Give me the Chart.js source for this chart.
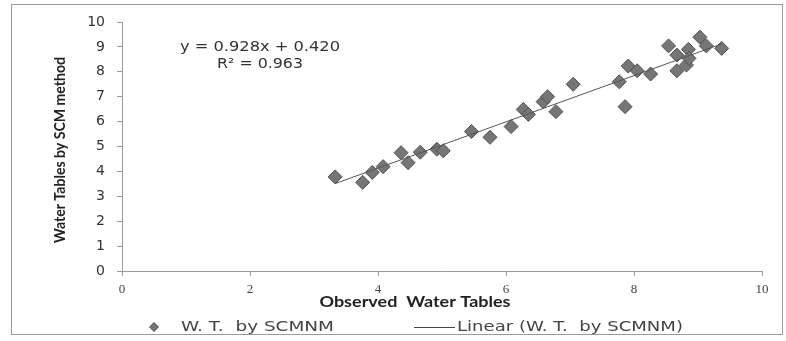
<!DOCTYPE html>
<html>
<head>
<meta charset="utf-8">
<script src="https://cdn.jsdelivr.net/npm/chart.js@4"></script>
<style>
    html, body {margin: 0; padding: 0; background: #ffffff;}
    #wrap {position: relative; width: 786px; height: 341px;}
</style>
</head>
<body>
<div id="wrap"><canvas id="chart"></canvas></div>
<script>
// observed vs. SCM water tables
const observedX = [3.33, 3.76, 3.91, 4.08, 4.36, 4.47, 4.66, 4.92, 5.02, 5.46, 5.75, 6.08, 6.27, 6.35, 6.58, 6.65,
    6.78, 7.05, 7.77, 7.86, 7.91, 8.05, 8.26, 8.54, 8.67, 8.67, 8.82, 8.85, 8.86, 9.03, 9.13, 9.37];
const scmY = [3.78, 3.56, 3.96, 4.19, 4.75, 4.35, 4.77, 4.89, 4.83, 5.60, 5.37, 5.80, 6.49, 6.29, 6.80, 7.00,
    6.40, 7.50, 7.60, 6.60, 8.23, 8.04, 7.91, 9.04, 8.67, 8.04, 8.27, 8.90, 8.54, 9.39, 9.04, 8.94];

// trendline end points
const trendX = [3.33, 9.37];
const trendY = [3.51, 9.12];

const xTicks = [0, 2, 4, 6, 8, 10];
const yTicks = [0, 1, 2, 3, 4, 5, 6, 7, 8, 9, 10];

const equationText = 'y = 0.928x + 0.420';
const r2Text = 'R² = 0.963';
const xTitle = 'Observed  Water Tables';
const yTitle = 'Water Tables by SCM method';
const seriesName = 'W. T.  by SCMNM';
const trendName = 'Linear (W. T.  by SCMNM)';

const markerFill = '#767676';
const markerBorder = '#505050';

const scatterPoints = observedX.map((x, i) => ({x: x, y: scmY[i]}));
const trendPoints = trendX.map((x, i) => ({x: x, y: trendY[i]}));

// draw text squeezed/stretched so it spans a given width
function fitText(ctx, text, x, y, width, align) {
    const w = ctx.measureText(text).width;
    const k = width / w;
    ctx.save();
    ctx.translate(x, y);
    ctx.scale(k, 1);
    ctx.textAlign = align || 'left';
    ctx.fillText(text, 0, 0);
    ctx.restore();
}

const extras = {
    id: 'extras',
    afterDraw(chart) {
        const ctx = chart.ctx;
        ctx.save();

        // outer frame
        ctx.strokeStyle = '#9a9a9a';
        ctx.lineWidth = 1;
        ctx.strokeRect(11.5, 4.5, 771, 330);

        ctx.fillStyle = '#333';
        ctx.textBaseline = 'middle';

        // equation
        ctx.font = '14px "DejaVu Sans"';
        fitText(ctx, equationText, 260, 47, 160, 'center');
        fitText(ctx, r2Text, 260, 64, 86, 'center');

        // axis titles
        ctx.fillStyle = '#222';
        ctx.font = 'bold 15px Lato';
        fitText(ctx, xTitle, 415, 302, 191, 'center');

        ctx.save();
        ctx.translate(60, 150);
        ctx.rotate(-Math.PI / 2);
        ctx.font = 'bold 15px Lato';
        fitText(ctx, yTitle, 0, 0, 186, 'center');
        ctx.restore();

        // legend
        const ly = 327;
        ctx.fillStyle = markerFill;
        ctx.strokeStyle = markerBorder;
        ctx.beginPath();
        ctx.moveTo(154, ly - 4.5);
        ctx.lineTo(158.5, ly);
        ctx.lineTo(154, ly + 4.5);
        ctx.lineTo(149.5, ly);
        ctx.closePath();
        ctx.fill();
        ctx.stroke();

        ctx.fillStyle = '#444';
        ctx.font = '14px "DejaVu Sans"';
        fitText(ctx, seriesName, 181, ly, 153);

        ctx.strokeStyle = '#444';
        ctx.beginPath();
        ctx.moveTo(414, ly + 0.5);
        ctx.lineTo(455, ly + 0.5);
        ctx.stroke();
        fitText(ctx, trendName, 457, ly, 226);

        ctx.restore();
    }
};

new Chart(document.getElementById('chart'), {
    type: 'scatter',
    data: {
        datasets: [
            {
                label: seriesName,
                data: scatterPoints,
                pointStyle: 'rectRot',
                pointRadius: 7,
                backgroundColor: markerFill,
                borderColor: markerBorder,
                borderWidth: 1,
                order: 2,
            },
            {
                label: trendName,
                type: 'line',
                data: trendPoints,
                showLine: true,
                pointRadius: 0,
                borderColor: '#555',
                borderWidth: 1,
                fill: false,
                order: 1,
            },
        ],
    },
    options: {
        responsive: true,
        maintainAspectRatio: false,
        animation: false,
        layout: {
            padding: {top: 22, right: 24, bottom: 0, left: 0},
        },
        scales: {
            x: {
                type: 'linear',
                min: 0,
                max: 10,
                afterFit: (scale) => { scale.height = 70; },
                afterBuildTicks: (scale) => { scale.ticks = xTicks.map(v => ({value: v})); },
                border: {display: true, color: '#9a9a9a'},
                grid: {drawOnChartArea: false, drawTicks: true, tickLength: 5, color: '#9a9a9a'},
                ticks: {
                    color: '#444',
                    padding: 6,
                    maxRotation: 0,
                    font: {family: '"Liberation Serif"', size: 13},
                },
            },
            y: {
                min: 0,
                max: 10,
                afterFit: (scale) => { scale.width = 122; },
                afterBuildTicks: (scale) => { scale.ticks = yTicks.map(v => ({value: v})); },
                border: {display: true, color: '#9a9a9a'},
                grid: {drawOnChartArea: false, drawTicks: true, tickLength: 5, color: '#9a9a9a'},
                ticks: {
                    color: '#333',
                    padding: 12,
                    font: {family: '"DejaVu Sans"', size: 14},
                },
            },
        },
        plugins: {
            legend: {display: false},
            tooltip: {enabled: false},
        },
    },
    plugins: [extras],
});
</script>
</body>
</html>
